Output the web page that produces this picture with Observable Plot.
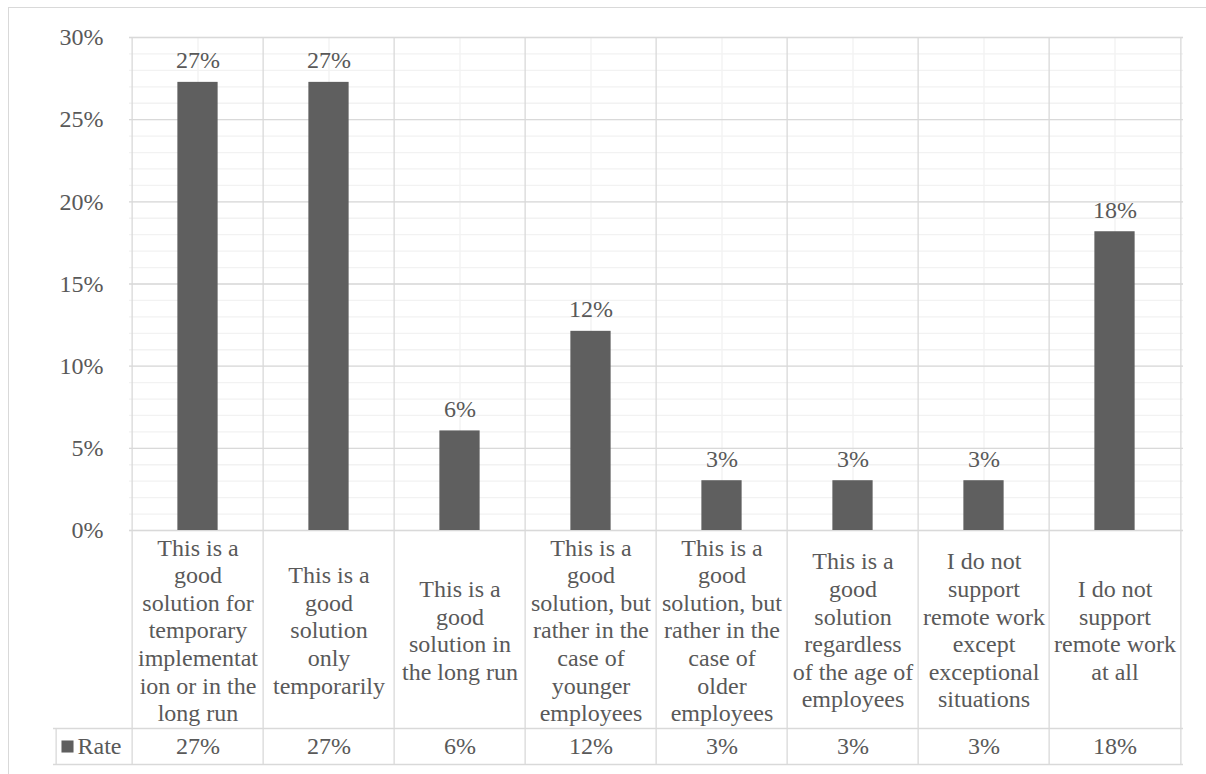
<!DOCTYPE html>
<html>
<head>
<meta charset="utf-8">
<script src="https://cdn.jsdelivr.net/npm/d3@7"></script>
<script src="https://cdn.jsdelivr.net/npm/@observablehq/plot@0.6"></script>
<style>
  html, body { margin: 0; padding: 0; background: #fff; overflow: hidden; }
  #wrap { position: relative; width: 1206px; height: 774px; }
  #border { position: absolute; left: 8px; top: 7px; width: 2000px; height: 2000px;
            border: 1.5px solid #d9d9d9; box-sizing: border-box; }
  #chart { position: absolute; left: 0; top: 0; }
</style>
</head>
<body>
<div id="wrap"><div id="border"></div><div id="chart"></div></div>
<script>
const categories = [
  "This is a\ngood\nsolution for\ntemporary\nimplementat\nion or in the\nlong run",
  "This is a\ngood\nsolution\nonly\ntemporarily",
  "This is a\ngood\nsolution in\nthe long run",
  "This is a\ngood\nsolution, but\nrather in the\ncase of\nyounger\nemployees",
  "This is a\ngood\nsolution, but\nrather in the\ncase of\nolder\nemployees",
  "This is a\ngood\nsolution\nregardless\nof the age of\nemployees",
  "I do not\nsupport\nremote work\nexcept\nexceptional\nsituations",
  "I do not\nsupport\nremote work\nat all"
];
const values = [27.27, 27.27, 6.06, 12.12, 3.03, 3.03, 3.03, 18.18];
const valueLabels = ["27%", "27%", "6%", "12%", "3%", "3%", "3%", "18%"];
const seriesName = "Rate";
const yTicks = [0, 5, 10, 15, 20, 25, 30];
const yMinorTicks = d3.range(0, 31, 1);

const data = categories.map((c, i) => ({cat: c, value: values[i], label: valueLabels[i]}));

const W = 1206, H = 774, mL = 129, mR = 23, mT = 37, mB = 244;
const step = (W - mL - mR) / categories.length;
const half = step / 2;
const barInset = (step - 41) / 2;
const major = "#d9d9d9", minor = "#f2f2f2", ink = "#595959", barFill = "#5f5f5f";
const rowTop = 198, rowBot = 234, keyCol = 76;
const font = "Liberation Serif";
const fs = 24;

const chart = Plot.plot({
  width: W, height: H,
  marginLeft: mL, marginRight: mR, marginTop: mT, marginBottom: mB,
  style: {fontFamily: font, fontSize: fs + "px"},
  x: {domain: categories, padding: 0, axis: null},
  y: {domain: [0, 30], axis: null},
  marks: [
    Plot.ruleY(yMinorTicks, {stroke: minor, strokeWidth: 1.3}),
    Plot.ruleX(categories, {stroke: minor, strokeWidth: 1.3}),
    Plot.ruleY(yTicks, {stroke: major, strokeWidth: 1.3}),
    Plot.ruleX(categories, {dx: -half, stroke: major, strokeWidth: 1.3, insetBottom: -rowBot}),
    Plot.ruleX([categories[categories.length - 1]], {dx: half, stroke: major, strokeWidth: 1.3, insetBottom: -rowBot}),
    Plot.ruleY([0], {dy: rowTop, insetLeft: -keyCol, stroke: major, strokeWidth: 1.3}),
    Plot.ruleY([0], {dy: rowBot, insetLeft: -keyCol, stroke: major, strokeWidth: 1.3}),
    Plot.ruleX([categories[0]], {dx: -half - keyCol, insetTop: (H - mB - mT) + rowTop, insetBottom: -rowBot, stroke: major, strokeWidth: 1.3}),
    Plot.barY(data, {x: "cat", y: "value", fill: barFill, insetLeft: barInset, insetRight: barInset}),
    Plot.text(data, {x: "cat", y: "value", text: "label", lineAnchor: "bottom", dy: -14, fill: ink, fontFamily: font, fontSize: fs}),
    Plot.axisY({ticks: yTicks, tickFormat: d => d + "%", tickSize: 0, tickPadding: 26, fill: ink, label: null, fontFamily: font, fontSize: fs}),
    Plot.text(categories, {x: d => d, text: d => d, frameAnchor: "bottom", dy: 99, lineAnchor: "middle", lineHeight: 1.15, fill: ink, fontFamily: font, fontSize: fs}),
    Plot.text(data, {x: "cat", text: "label", frameAnchor: "bottom", dy: (rowTop + rowBot) / 2, lineAnchor: "middle", fill: ink, fontFamily: font, fontSize: fs}),
    Plot.dot([seriesName], {frameAnchor: "bottom-left", dx: -62, dy: (rowTop + rowBot) / 2, symbol: "square", r: 6.8, fill: barFill, stroke: null}),
    Plot.text([seriesName], {text: d => d, frameAnchor: "bottom-left", dx: -52, dy: (rowTop + rowBot) / 2, textAnchor: "start", lineAnchor: "middle", fill: ink, fontFamily: font, fontSize: fs})
  ]
});
chart.style.background = "transparent";
chart.style.overflow = "visible";
document.getElementById("chart").appendChild(chart);
</script>
</body>
</html>
